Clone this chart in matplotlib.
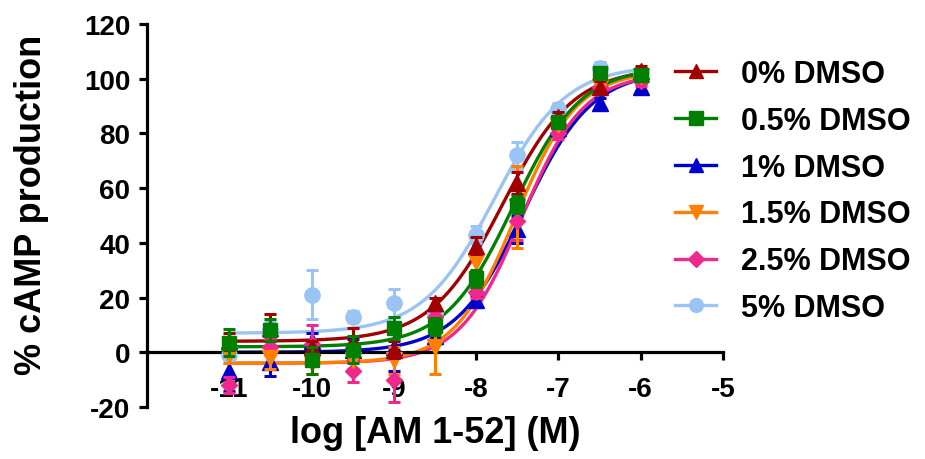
import numpy as np
import matplotlib
matplotlib.use("Agg")
import matplotlib.pyplot as plt
from matplotlib.lines import Line2D

plt.rcParams['font.family'] = ['Liberation Sans', 'DejaVu Sans']
plt.rcParams['font.weight'] = 'bold'
plt.rcParams['axes.unicode_minus'] = False

# log concentration of AM 1-52 (M)
log_conc = [-11, -10.5, -10, -9.5, -9, -8.5, -8, -7.5, -7, -6.5, -6]

labels = ["0% DMSO", "0.5% DMSO", "1% DMSO", "1.5% DMSO", "2.5% DMSO", "5% DMSO"]

# mean % cAMP production per DMSO condition
mean_0 = [4, 9, 2, 4, 1, 18, 39, 62, 86, 97, 103]
mean_05 = [3.5, 8, -3, 1, 9, 9.5, 27, 54, 84, 102, 101.5]
mean_1 = [-7, -3.5, 4, 1, 2, 6, 19, 45, 82, 91, 97]
mean_15 = [-1, -2, -4, -3, -3, 2, 33, 53, 83, 97, 101]
mean_25 = [-12, 2, 3, -7, -10, 13, 22, 48, 80, 97, 99]
mean_5 = [-1, 8, 21, 13, 18, 14.5, 43, 72, 89, 104, 102]

# SEM per point
sem_0 = [3, 5, 2, 5, 3, 2, 3, 4, 2, 2, 1.5]
sem_05 = [5, 4, 5, 5, 4, 3, 3, 3, 2, 2, 1.5]
sem_1 = [7, 5, 3, 4, 9, 3, 2, 5, 2, 2, 1.5]
sem_15 = [3, 4, 4, 3, 5, 10, 3, 15, 2, 2, 1.5]
sem_25 = [3, 3, 7, 4, 8, 2, 2, 7, 2, 2, 1.5]
sem_5 = [3, 3, 9, 2, 5, 2, 3, 5, 2, 2, 1.5]

# four-parameter logistic fits: bottom, top, logEC50, Hill slope
fit_bottom = [4, 2, 0, -4, -4, 7]
fit_top = [104, 104.5, 103, 103, 102, 105]
fit_logec50 = [-7.68, -7.55, -7.42, -7.52, -7.45, -7.78]
fit_hill = [1.0, 1.05, 1.05, 1.15, 1.15, 1.0]

colors = ['#A00000', '#008000', '#0000CD', '#FF8000', '#F0288C', '#99C4F4']
markers = ['^', 's', '^', 'v', 'D', 'o']
msizes = [11, 10.5, 11, 11, 8.5, 11]

means = [mean_0, mean_05, mean_1, mean_15, mean_25, mean_5]
sems = [sem_0, sem_05, sem_1, sem_15, sem_25, sem_5]

fig = plt.figure(figsize=(9.25, 4.6), dpi=100)
ax = fig.add_axes([147 / 925, 1 - 408 / 460, 576 / 925, 383 / 460])

xs = np.linspace(-11, -6, 300)
draw_order = [5, 2, 4, 3, 0, 1]
for z, i in enumerate(draw_order):
    yfit = fit_bottom[i] + (fit_top[i] - fit_bottom[i]) / (
        1 + 10 ** ((fit_logec50[i] - xs) * fit_hill[i]))
    ax.plot(xs, yfit, color=colors[i], lw=2.4, zorder=2 + z * 0.1)
for z, i in enumerate(draw_order):
    ax.errorbar(log_conc, means[i], yerr=sems[i], fmt=markers[i], color=colors[i],
                ms=msizes[i], mec=colors[i], elinewidth=2.2, capsize=4.5,
                capthick=2.2, zorder=3 + z * 0.1)

ax.set_xlim(-12, -5)
ax.set_ylim(-20, 120)
ax.set_xticks([-11, -10, -9, -8, -7, -6, -5])
ax.set_yticks(np.arange(-20, 121, 20))

ax.spines['top'].set_visible(False)
ax.spines['right'].set_visible(False)
ax.spines['bottom'].set_position(('data', 0))
for s in ('left', 'bottom'):
    ax.spines[s].set_linewidth(2.3)
ax.tick_params(axis='both', width=2.3, length=6, labelsize=20)
ax.tick_params(axis='x', pad=11)
ax.tick_params(axis='y', pad=6)

ax.set_xlabel("log [AM 1-52] (M)", fontsize=26, fontweight='bold')
ax.xaxis.set_label_coords(0.5, -0.022)
ax.set_ylabel("% cAMP production", fontsize=26, fontweight='bold')
ax.yaxis.set_label_coords(-0.17, 0.53)

handles = [Line2D([], [], color=colors[i], marker=markers[i], ms=msizes[i] * 0.9,
                  lw=2.4) for i in range(6)]
fig.legend(handles, labels, loc='upper left',
           bbox_to_anchor=(675 / 925, 1 - 60 / 460), frameon=False,
           prop={'weight': 'bold', 'size': 22},
           handlelength=1.35, handletextpad=0.8, labelspacing=0.55,
           borderpad=0, borderaxespad=0)

fig.savefig("out.png", dpi=100)
